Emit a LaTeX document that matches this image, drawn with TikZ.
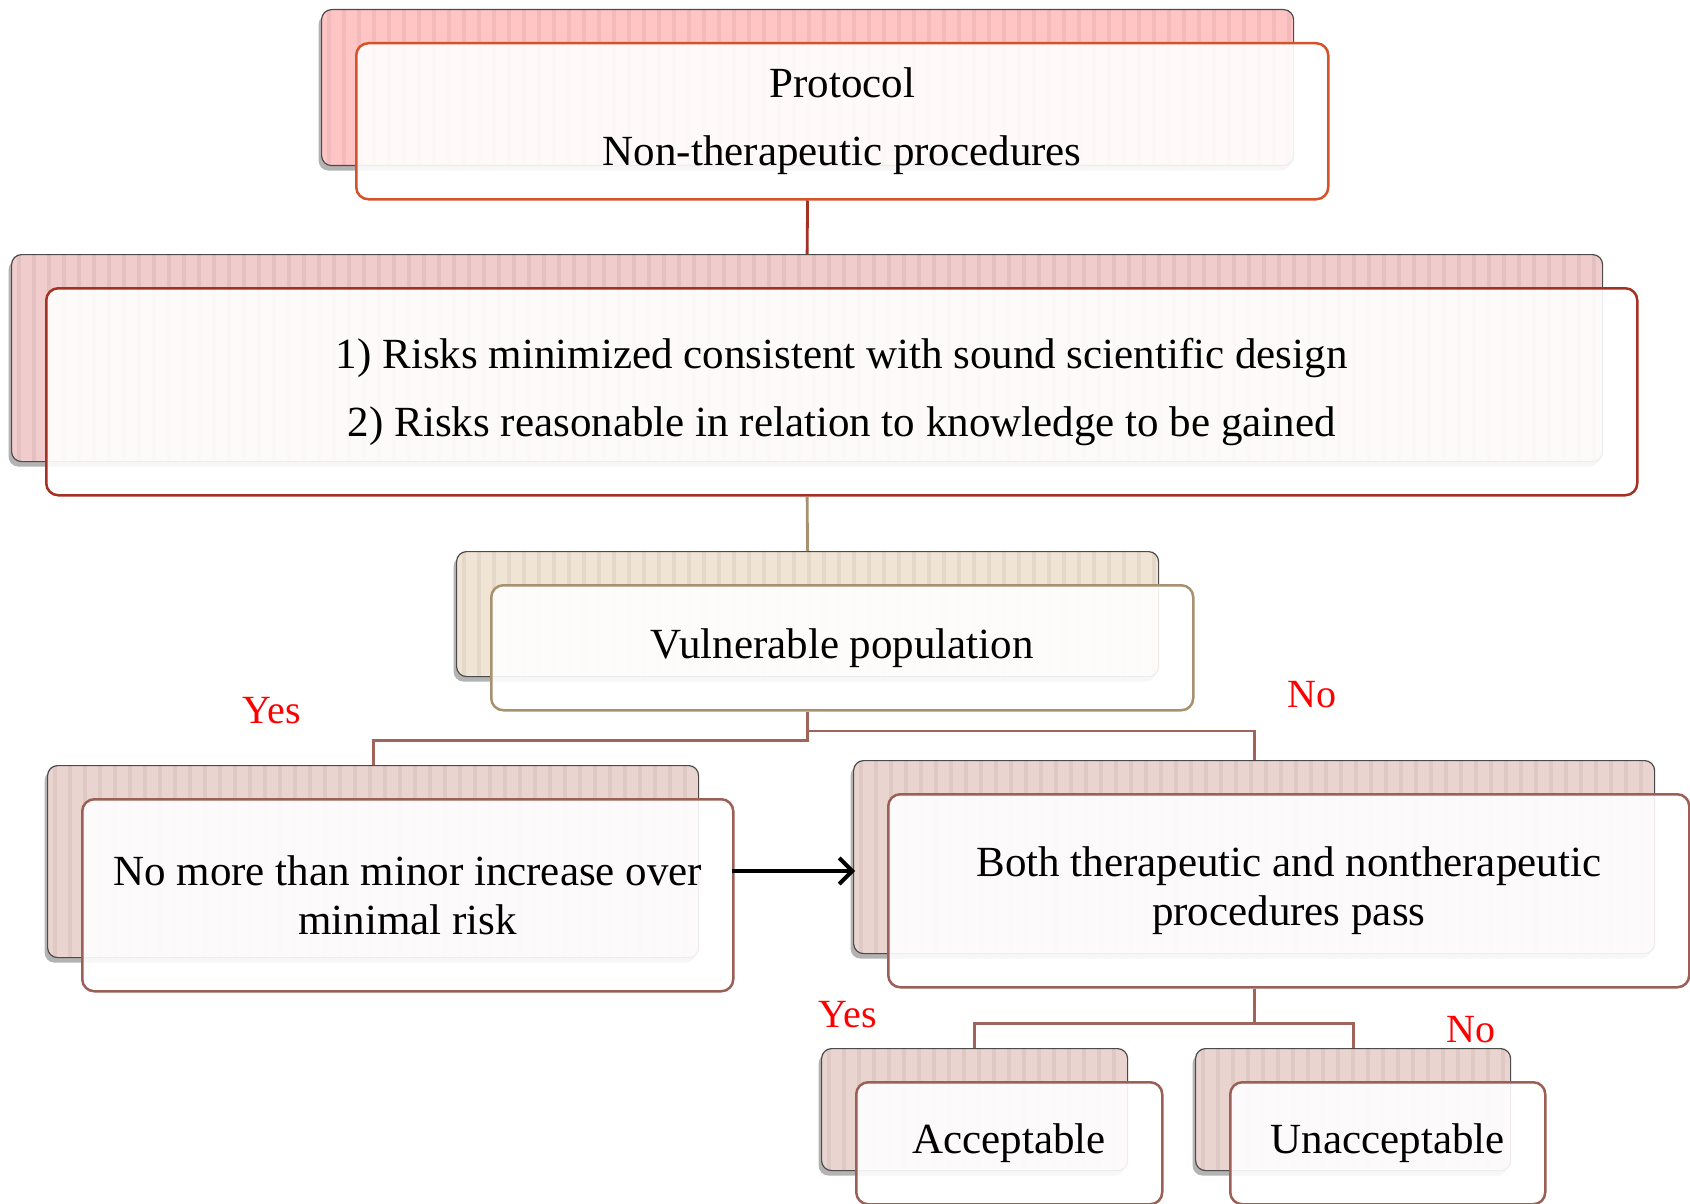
\documentclass[tikz,border=0pt]{standalone}
\usepackage{fontspec}
\setmainfont{Liberation Serif}
\usetikzlibrary{shadows,arrows.meta,calc}

\definecolor{cOneBack}{HTML}{FFC5C5}
\definecolor{cOneLine}{HTML}{D4532B}
\definecolor{cTwoBack}{HTML}{F0CCCC}
\definecolor{cTwoLine}{HTML}{A53024}
\definecolor{cThreeBack}{HTML}{F0E4D4}
\definecolor{cThreeLine}{HTML}{A8916E}
\definecolor{cFourBack}{HTML}{EAD4D0}
\definecolor{cFourLine}{HTML}{9B5F55}
\definecolor{cConn}{HTML}{A0645A}

\tikzset{
  backbox/.style={draw=gray!60!black, line width=1.2pt, rounded corners=10pt,
    inner sep=0pt, anchor=north west,
    drop shadow={shadow xshift=-3pt,shadow yshift=-5pt,opacity=0.6}},
  frontbox/.style={line width=2.5pt, rounded corners=12pt, fill=white,
    fill opacity=0.9, text opacity=1, inner sep=0pt, anchor=north west,
    align=center, font=\fontsize{43}{49}\selectfont},
  conn/.style={line width=2.8pt},
  lbl/.style={text=red, font=\fontsize{40}{42}\selectfont},
  arr/.style={black, line width=4pt, -{Straight Barb[length=13pt,width=26pt]}},
}

\newcommand\pairbox[8]{%
  \node[backbox, fill=#6, minimum width=#4pt, minimum height=#5pt] (#1b) at (#2,#3) {};
  \begin{scope}
    \clip[rounded corners=10pt] (#1b.north west) rectangle (#1b.south east);
    \foreach \k in {1,...,110}
      \draw[black, opacity=0.05, line width=4pt] ($(#1b.north west)+(\k*15-7,0)$) -- ++(0,#5);
  \end{scope}
  \node[frontbox, draw=#7, minimum width=#4pt, minimum height=#5pt] (#1) at (#2+34,#3+33) {#8};
}

\begin{document}
\begin{tikzpicture}[x=1pt,y=-1pt]
\useasboundingbox (0,0) rectangle (1690,1204);

\pairbox{p}{321}{9}{972}{156}{cOneBack}{cOneLine}{Protocol\\[19pt]Non-therapeutic procedures}
\pairbox{r}{11}{254}{1591}{207}{cTwoBack}{cTwoLine}{1) Risks minimized consistent with sound scientific design\\[19pt]2) Risks reasonable in relation to knowledge to be gained}
\pairbox{v}{456}{551}{702}{125}{cThreeBack}{cThreeLine}{Vulnerable population}
\pairbox{m}{47}{765}{651}{192}{cFourBack}{cFourLine}{No more than minor increase over\\minimal risk}
\pairbox{t}{853}{760}{801}{193}{cFourBack}{cFourLine}{Both therapeutic and nontherapeutic\\procedures pass}
\pairbox{a}{821}{1048}{306}{122}{cFourBack}{cFourLine}{Acceptable}
\pairbox{u}{1195}{1048}{315}{122}{cFourBack}{cFourLine}{Unacceptable}

% connectors
\draw[conn, cTwoLine] (pb.north |- p.south) -- (rb.north);
\draw[conn, cThreeLine] (rb.north |- r.south) -- (vb.north);
\draw[conn, cConn] (vb.north |- v.south) -- ++(0,29) -| (mb.north);
\coordinate (j) at (807,731);
\draw[conn, cConn] (vb.north |- j) -| (tb.north);
\draw[conn, cConn] (tb.north |- t.south) -- ++(0,35) coordinate (k);
\draw[conn, cConn] (ab.north) |- (k) -| (ub.north);

% arrow
\coordinate (ay) at (0,871);
\draw[arr] ([xshift=-3pt]m.east |- ay) -- ([xshift=2pt]tb.west |- ay);

% labels
\node[lbl] (yes1) at (272,711) {Yes};
\node[lbl] (no1) at (1312,695) {No};
\node[lbl] (yes2) at (848,1015) {Yes};
\node[lbl] (no2) at (1471,1030) {No};
\end{tikzpicture}
\end{document}
